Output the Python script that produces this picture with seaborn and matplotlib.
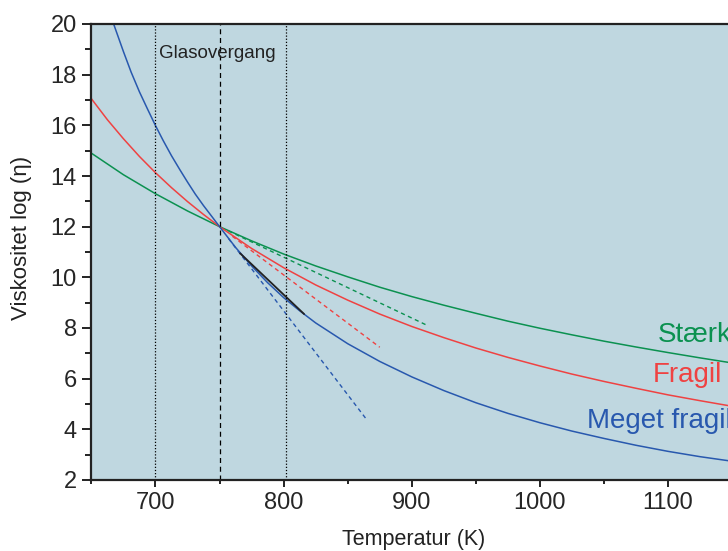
import numpy as np
import pandas as pd
import seaborn as sns
import matplotlib.pyplot as plt
from matplotlib.ticker import MultipleLocator

# curves (temperature in K, log viscosity)
temp_strong = [650, 675, 700, 725, 750, 775, 800, 825, 850, 875, 900,
               925, 950, 975, 1000, 1025, 1050, 1075, 1100, 1125, 1150]
visc_strong = [14.90, 14.05, 13.30, 12.62, 12.00, 11.44, 10.92, 10.45, 10.02, 9.61, 9.24,
               8.90, 8.58, 8.27, 7.99, 7.73, 7.48, 7.25, 7.03, 6.82, 6.62]

temp_fragile = [650, 662.5, 675, 687.5, 700, 712.5, 725, 737.5, 750, 775, 800, 825, 850, 875, 900,
                925, 950, 975, 1000, 1025, 1050, 1075, 1100, 1125, 1150]
visc_fragile = [17.05, 16.22, 15.47, 14.77, 14.13, 13.54, 12.99, 12.48, 12.00, 11.14, 10.38,
                9.70, 9.10, 8.55, 8.06, 7.62, 7.21, 6.84, 6.50, 6.18, 5.89, 5.62, 5.36, 5.13, 4.91]

temp_very = [667, 675, 681, 687.5, 694, 700, 706, 712.5, 719, 725, 731, 737.5, 744, 750,
             762.5, 775, 787.5, 800, 812.5, 825, 850, 875, 900,
             925, 950, 975, 1000, 1025, 1050, 1075, 1100, 1125, 1150]
visc_very = [20.05, 18.91, 18.10, 17.32, 16.62, 15.99, 15.40, 14.80, 14.25, 13.76, 13.29, 12.83,
             12.40, 12.00, 11.18, 10.45, 9.79, 9.20, 8.68, 8.20, 7.38, 6.68, 6.07,
             5.53, 5.05, 4.63, 4.26, 3.93, 3.64, 3.37, 3.13, 2.92, 2.74]

# tangents at the glass transition
tan_strong_t = [757, 913]
tan_strong_v = [11.83, 8.08]
tan_fragile_t = [760, 875]
tan_fragile_v = [11.62, 7.24]
tan_very_t = [757, 865]
tan_very_v = [11.53, 4.37]

# short black segment on the very fragile curve
seg_t = [766, 816]
seg_v = [10.95, 8.55]

vlines_dotted = [700, 802]
vline_tg = 750

labels = ["Stærk", "Fragil", "Meget fragil"]
label_pos = [(1092, 7.45), (1088, 5.88), (1036.7, 4.04)]

green = "#0b9150"
red = "#ef4242"
blue = "#2858ae"

sns.set_style("ticks")
plt.rcParams['font.family'] = ['Liberation Sans', 'DejaVu Sans']

fig = plt.figure(figsize=(7.28, 5.51), dpi=100)
ax = fig.add_axes([91.4 / 728, 71 / 551, 640.8 / 728, 456 / 551])
ax.set_facecolor("#bfd7e0")

for t, v, c in [(temp_strong, visc_strong, green),
                (temp_fragile, visc_fragile, red),
                (temp_very, visc_very, blue)]:
    sns.lineplot(x=t, y=v, color=c, lw=1.1, sort=False, ax=ax)

for t, v, c in [(tan_strong_t, tan_strong_v, green),
                (tan_fragile_t, tan_fragile_v, red),
                (tan_very_t, tan_very_v, blue)]:
    sns.lineplot(x=t, y=v, color=c, lw=1.0, sort=False, ax=ax, linestyle=(0, (3, 2.5)))

sns.lineplot(x=seg_t, y=seg_v, color="#222222", lw=1.3, sort=False, ax=ax)

for xv in vlines_dotted:
    ax.axvline(xv, color="black", lw=0.9, linestyle=(0, (1, 1.5)))
ax.axvline(vline_tg, color="black", lw=0.9, linestyle=(0, (4, 3)))

ax.text(748, 18.66, "Glasovergang", fontsize=13.5, ha="center", va="baseline", color="#222222")

# the labels run off the right edge, as in the original
for lab, (x, y), c in zip(labels, label_pos, [green, red, blue]):
    ax.text(x, y, lab, fontsize=20, color=c, ha="left", va="baseline", clip_on=False)

ax.set_xlim(650, 1150)
ax.set_ylim(2, 20)
ax.xaxis.set_major_locator(MultipleLocator(100))
ax.xaxis.set_minor_locator(MultipleLocator(50))
ax.yaxis.set_major_locator(MultipleLocator(2))
ax.yaxis.set_minor_locator(MultipleLocator(1))
ax.tick_params(axis="x", which="major", length=5, width=1.4, labelsize=17, pad=3.5, color="#222222")
ax.tick_params(axis="x", which="minor", length=3, width=1.4, color="#222222")
ax.tick_params(axis="y", which="major", length=6.5, width=1.4, labelsize=17, pad=4, color="#222222")
ax.tick_params(axis="y", which="minor", length=4.3, width=1.4, color="#222222")
for s in ax.spines.values():
    s.set_linewidth(1.6)
    s.set_color("#222222")

ax.set_xlabel("Temperatur (K)", fontsize=15.5, color="#222222")
ax.set_ylabel("Viskositet log (η)", fontsize=16, color="#222222")
ax.xaxis.set_label_coords(0.5027, -0.108)
ax.yaxis.set_label_coords(-0.093, 0.53)

fig.savefig("out.png", dpi=100)
